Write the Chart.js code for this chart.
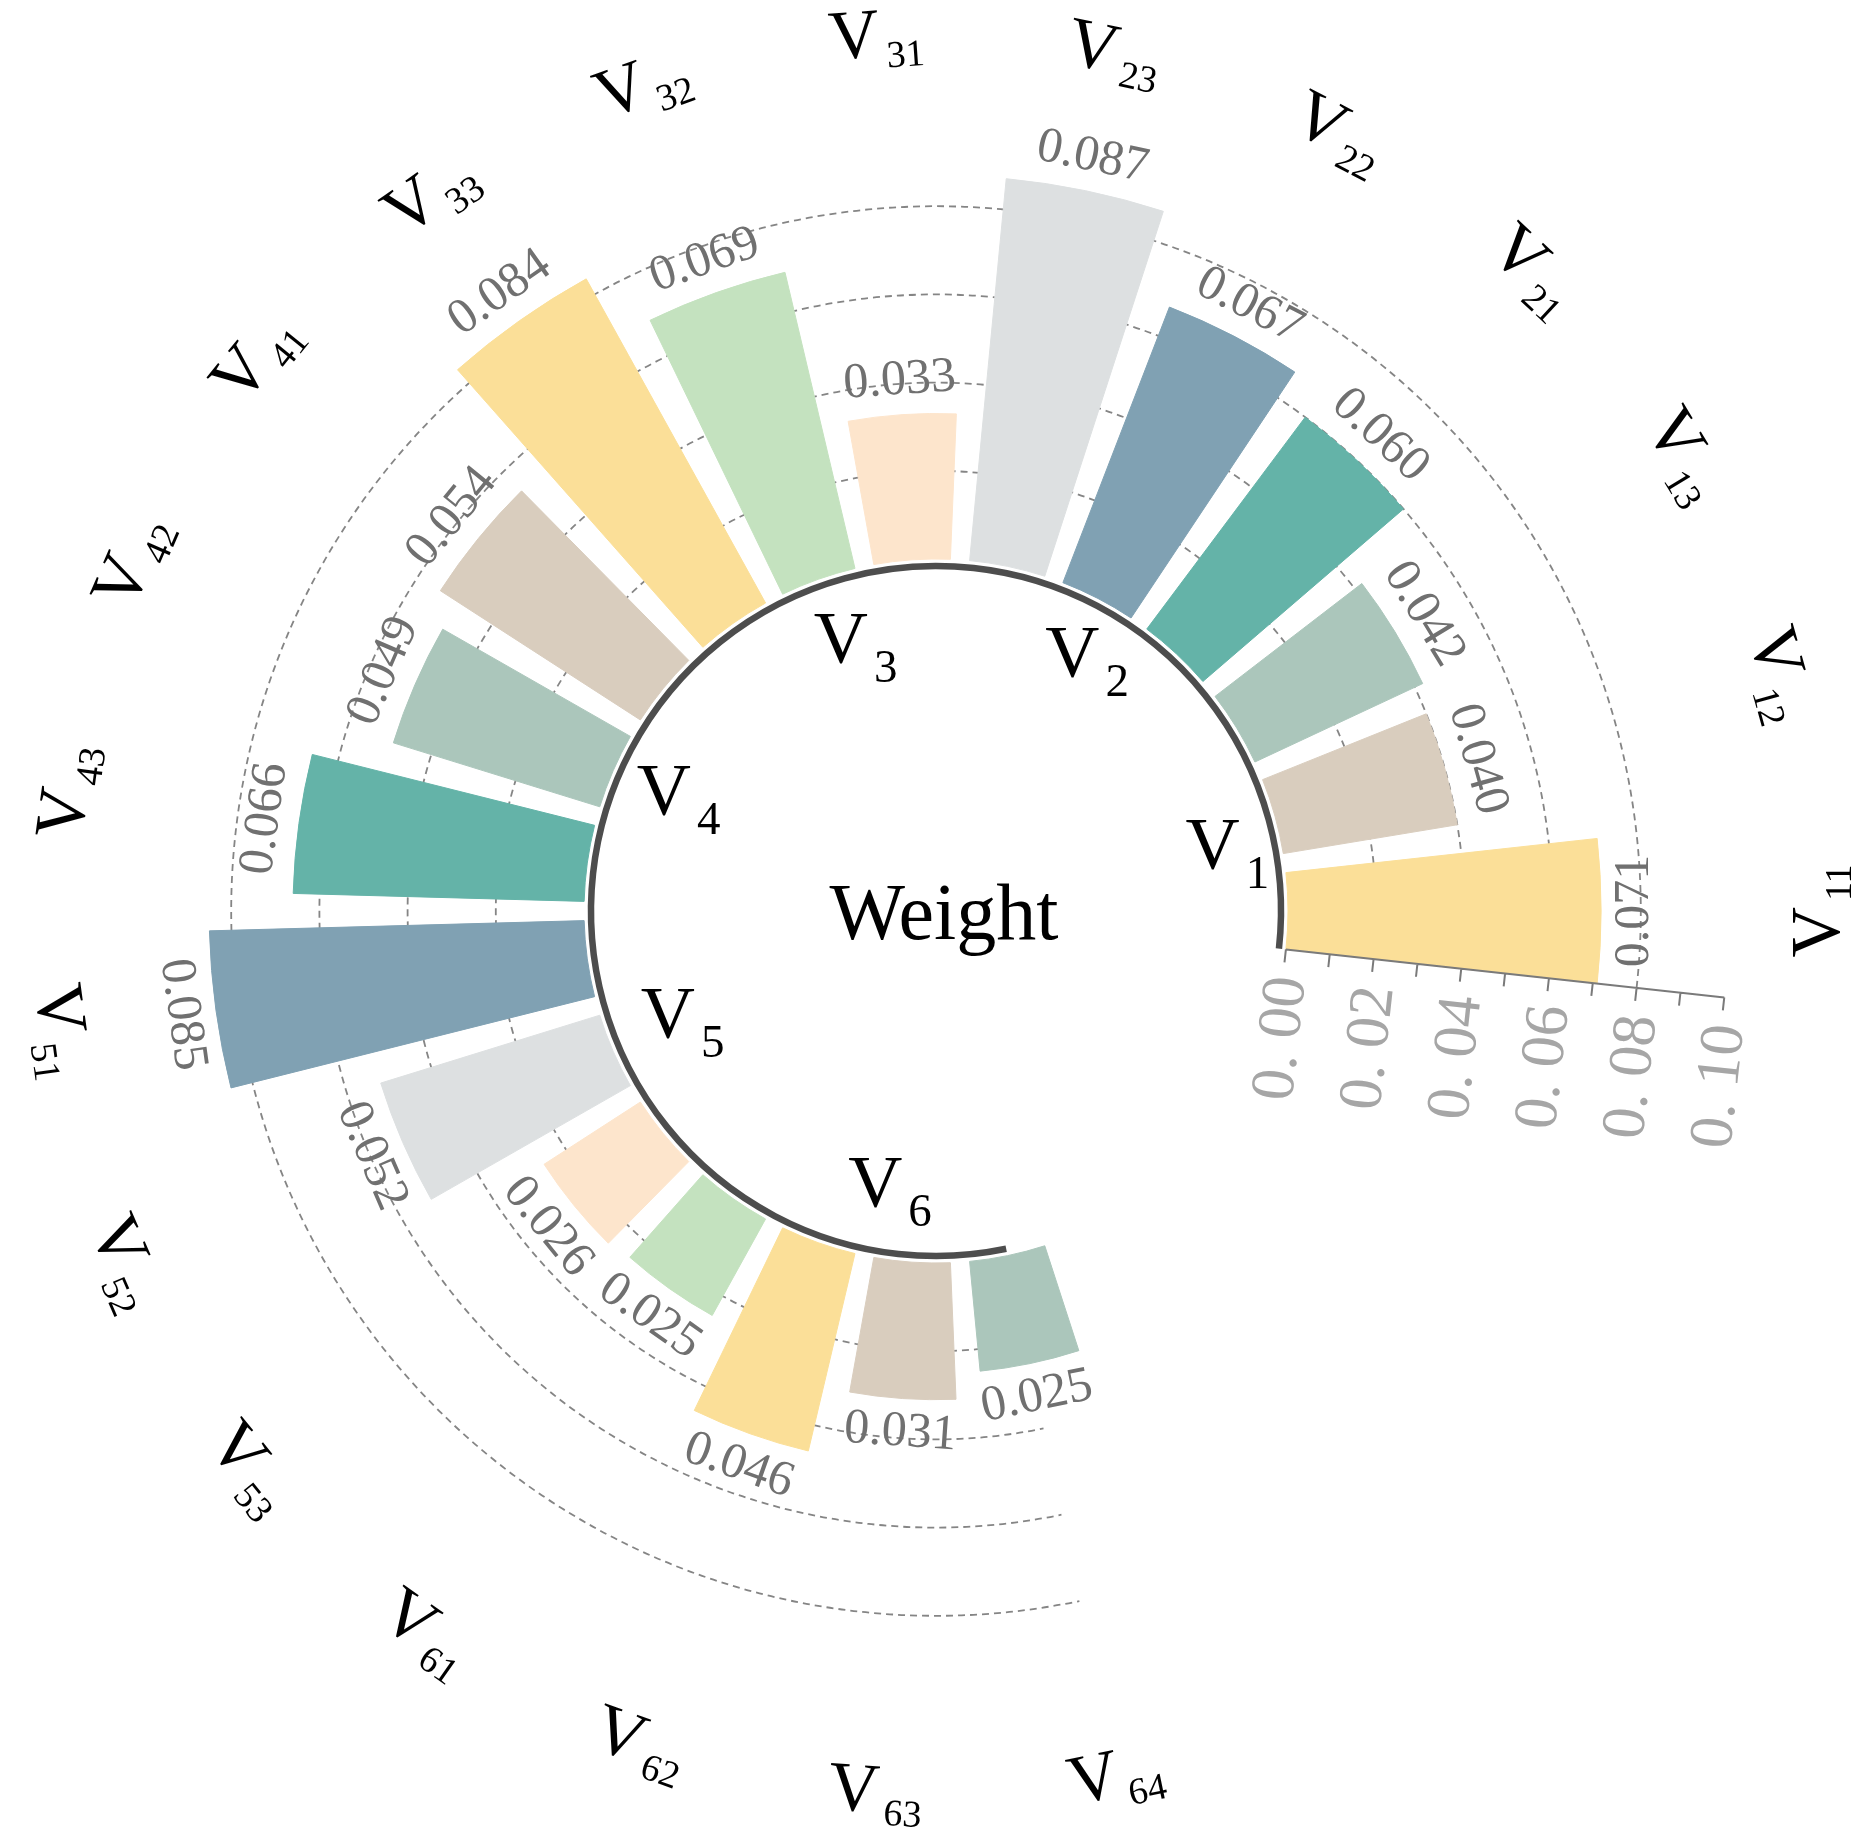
<!DOCTYPE html>
<html>
<head>
<meta charset="utf-8">
<title>Weight</title>
<script src="https://cdn.jsdelivr.net/npm/chart.js@4.4.0/dist/chart.umd.min.js"></script>
<style>
    html, body { margin: 0; padding: 0; background: #ffffff; }
    #wrap { width: 1871px; height: 1836px; }
</style>
</head>
<body>
<div id="wrap"><canvas id="radialBars" width="1871" height="1836"></canvas></div>
<script>
// indicator weights
var indicatorNames = ["V11", "V12", "V13", "V21", "V22", "V23", "V31", "V32", "V33",
    "V41", "V42", "V43", "V51", "V52", "V53", "V61", "V62", "V63", "V64"];
var weights = [0.071, 0.040, 0.042, 0.060, 0.067, 0.087, 0.033, 0.069, 0.084,
    0.054, 0.049, 0.066, 0.085, 0.052, 0.026, 0.025, 0.046, 0.031, 0.025];
var groupNames = ["V1", "V2", "V3", "V4", "V5", "V6"];
var groupSizes = [3, 3, 3, 3, 3, 4];
var gridValues = [0.02, 0.04, 0.06, 0.08];
var axisTickValues = [0, 0.01, 0.02, 0.03, 0.04, 0.05, 0.06, 0.07, 0.08, 0.09, 0.10];
var axisLabelValues = [0, 0.02, 0.04, 0.06, 0.08, 0.10];
var centerTitle = "Weight";

var palette = ["#fbdf98", "#d9cdbe", "#abc6bb", "#64b3a8", "#80a1b3", "#dde0e1", "#fde5cc", "#c4e2bf"];

// geometry
var SLOT = 360 / 23;
var BAR_FRAC = 0.8;
var INNER_R = 352;
var R_AT_MAX = 793;       // radius of 0.10
var AREA = 900;
var PX_PER_UNIT = (R_AT_MAX - INNER_R) / 0.1;
var rMin = -INNER_R / PX_PER_UNIT;
var rMax = rMin + AREA / PX_PER_UNIT;
var FONT = '"Liberation Serif", "Times New Roman", serif';
// small nudges for the group names inside the ring (px)
var groupNudge = [[17, 10], [20, -6], [15, -4], [4, -7], [8, -11], [12, -8]];

// slices: bars go counter-clockwise from east, polar area draws clockwise,
// so feed them in reverse with transparent gap slices in between
var sliceValues = [], sliceColors = [], sliceAngles = [], sliceLabels = [], barSlice = [];
for (var i = weights.length - 1; i >= 0; i--) {
    barSlice[i] = sliceValues.length;
    sliceValues.push(weights[i]);
    sliceColors.push(palette[i % palette.length]);
    sliceAngles.push(SLOT * BAR_FRAC);
    sliceLabels.push(indicatorNames[i]);
    if (i > 0) {
        sliceValues.push(0);
        sliceColors.push("rgba(0,0,0,0)");
        sliceAngles.push(SLOT * (1 - BAR_FRAC));
        sliceLabels.push("");
    }
}
var usedAngle = sliceAngles.reduce(function (a, b) { return a + b; }, 0);
sliceValues.push(0);
sliceColors.push("rgba(0,0,0,0)");
sliceAngles.push(360 - usedAngle);
sliceLabels.push("");

var lastCenter = (weights.length - 1) * SLOT;
var axisAngle = -SLOT * BAR_FRAC / 2;
var startAngle = -(lastCenter + SLOT * BAR_FRAC / 2) + 90;
startAngle = ((startAngle % 360) + 360) % 360;

function rad(d) { return d * Math.PI / 180; }

function textDir(theta) {
    var dir = theta - 90;
    while (dir > 90) dir -= 180;
    while (dir <= -90) dir += 180;
    return dir;
}

function drawSub(ctx, base, sub, big, small, drop, gap) {
    ctx.font = big + "px " + FONT;
    var wb = ctx.measureText(base).width;
    ctx.font = small + "px " + FONT;
    var ws = ctx.measureText(sub).width;
    var x0 = -(wb + gap + ws) / 2;
    var by = big * 0.331;
    ctx.textAlign = "left";
    ctx.textBaseline = "alphabetic";
    ctx.font = big + "px " + FONT;
    ctx.fillText(base, x0, by);
    ctx.font = small + "px " + FONT;
    ctx.fillText(sub, x0 + wb + gap, by + drop);
}

var radialDecor = {
    id: "radialDecor",
    afterDatasetsUpdate: function (chart) {
        var scale = chart.scales.r;
        var r0 = scale.getDistanceFromCenterForValue(0);
        chart.getDatasetMeta(0).data.forEach(function (arc) {
            arc.innerRadius = r0;
        });
    },
    beforeDatasetsDraw: function (chart) {
        var ctx = chart.ctx, scale = chart.scales.r;
        var cx = scale.xCenter, cy = scale.yCenter;
        ctx.save();
        ctx.strokeStyle = "#858585";
        ctx.lineWidth = 1.8;
        ctx.setLineDash([7, 5]);
        gridValues.forEach(function (v) {
            ctx.beginPath();
            ctx.arc(cx, cy, scale.getDistanceFromCenterForValue(v), rad(-axisAngle), rad(-lastCenter), true);
            ctx.stroke();
        });
        ctx.restore();
    },
    afterDatasetsDraw: function (chart) {
        var ctx = chart.ctx, scale = chart.scales.r;
        var cx = scale.xCenter, cy = scale.yCenter;
        var r0 = scale.getDistanceFromCenterForValue(0);
        function pt(theta, r) {
            return { x: cx + r * Math.cos(rad(theta)), y: cy - r * Math.sin(rad(theta)) };
        }
        ctx.save();

        // inner baseline arc
        ctx.strokeStyle = "#4d4d4d";
        ctx.lineWidth = 6.5;
        ctx.beginPath();
        ctx.arc(cx, cy, r0 - 7, rad(-axisAngle), rad(-lastCenter), true);
        ctx.stroke();

        // radial value axis
        var a = pt(axisAngle, r0);
        var b = pt(axisAngle, scale.getDistanceFromCenterForValue(0.10));
        var tv = { x: Math.sin(rad(axisAngle)), y: Math.cos(rad(axisAngle)) };
        ctx.strokeStyle = "#7a7a7a";
        ctx.lineWidth = 2;
        ctx.beginPath();
        ctx.moveTo(a.x, a.y);
        ctx.lineTo(b.x, b.y);
        axisTickValues.forEach(function (v) {
            var p = pt(axisAngle, scale.getDistanceFromCenterForValue(v));
            ctx.moveTo(p.x, p.y);
            ctx.lineTo(p.x + tv.x * 13, p.y + tv.y * 13);
        });
        ctx.stroke();
        ctx.fillStyle = "#a6a6a6";
        ctx.font = "62px " + FONT;
        ctx.textAlign = "right";
        ctx.textBaseline = "middle";
        axisLabelValues.forEach(function (v) {
            var p = pt(axisAngle, scale.getDistanceFromCenterForValue(v));
            ctx.save();
            ctx.translate(p.x + tv.x * 27, p.y + tv.y * 27);
            ctx.rotate(-rad(axisAngle + 90));
            ctx.fillText(v.toFixed(2).replace(".", ". "), 0, 6);
            ctx.restore();
        });

        // value labels
        ctx.fillStyle = "#707070";
        ctx.font = "50px " + FONT;
        ctx.textAlign = "center";
        ctx.textBaseline = "middle";
        weights.forEach(function (w, i) {
            var theta = i * SLOT;
            var el = chart.getDatasetMeta(0).data[barSlice[i]];
            var p = pt(theta, el.outerRadius + 34);
            ctx.save();
            ctx.translate(p.x, p.y);
            ctx.rotate(-rad(textDir(theta)));
            ctx.fillText(w.toFixed(3), 0, 0);
            ctx.restore();
        });

        // outer indicator names
        ctx.fillStyle = "#000000";
        indicatorNames.forEach(function (name, i) {
            var theta = i * SLOT;
            var p = pt(theta, 880);
            ctx.save();
            ctx.translate(p.x, p.y);
            ctx.rotate(-rad(textDir(theta)));
            drawSub(ctx, name.charAt(0), name.slice(1), 70, 38, 12, 6);
            ctx.restore();
        });

        // group names inside the ring
        var k = 0;
        groupNames.forEach(function (g, gi) {
            var mid = (k + (groupSizes[gi] - 1) / 2) * SLOT;
            k += groupSizes[gi];
            var p = pt(mid, 285);
            ctx.save();
            ctx.translate(p.x + groupNudge[gi][0], p.y + groupNudge[gi][1]);
            drawSub(ctx, g.charAt(0), g.slice(1), 75, 47, 19, 6);
            ctx.restore();
        });

        // centre title
        ctx.font = "80px " + FONT;
        ctx.textAlign = "center";
        ctx.textBaseline = "alphabetic";
        ctx.fillText(centerTitle, cx + 8, cy + 28);
        ctx.restore();
    }
};

var ctx = document.getElementById("radialBars").getContext("2d");
var radialChart = new Chart(ctx, {
    type: "polarArea",
    data: {
        labels: sliceLabels,
        datasets: [
            {
                label: centerTitle,
                data: sliceValues,
                backgroundColor: sliceColors,
                borderColor: sliceColors,
                borderWidth: 1,
                angle: sliceAngles,
            },
        ],
    },
    options: {
        responsive: false,
        animation: false,
        devicePixelRatio: 1,
        events: [],
        layout: {
            padding: { left: 36, right: 35, top: 11, bottom: 25 },
        },
        scales: {
            r: {
                min: rMin,
                max: rMax,
                beginAtZero: false,
                startAngle: startAngle,
                grid: { display: false },
                angleLines: { display: false },
                pointLabels: { display: false },
                ticks: { display: false },
            },
        },
        plugins: {
            legend: { display: false },
            tooltip: { enabled: false },
        },
    },
    plugins: [radialDecor],
});
</script>
</body>
</html>
